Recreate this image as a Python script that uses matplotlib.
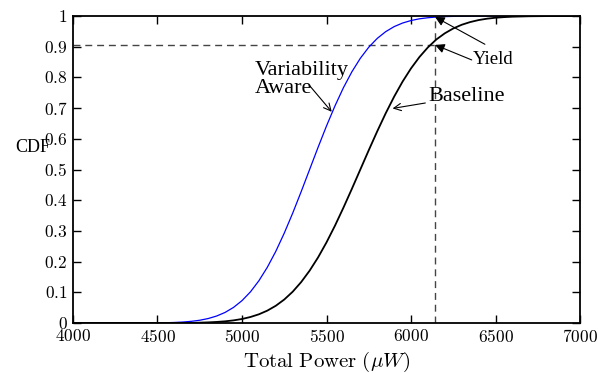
import matplotlib
matplotlib.use('Agg')
import matplotlib.pyplot as plt
from matplotlib.ticker import FuncFormatter

plt.rcParams['font.family'] = ['Liberation Serif', 'DejaVu Serif']
plt.rcParams['mathtext.fontset'] = 'cm'

# 总功耗 (uW) 与累计分布
power_aware = [4000, 4500, 4600, 4650, 4700, 4750, 4800, 4850, 4900, 4950, 5000,
               5050, 5100, 5150, 5200, 5250, 5300, 5350, 5400, 5450, 5500,
               5550, 5600, 5650, 5700, 5750, 5800, 5850, 5900, 5950, 6000,
               6050, 6100, 6150, 6200, 6300, 6500, 7000]
cdf_aware = [0.0, 0.0001, 0.0018, 0.0032, 0.0055, 0.0090, 0.0146, 0.0228, 0.0345, 0.0509, 0.0729,
             0.1015, 0.1377, 0.1817, 0.2335, 0.2928, 0.3580, 0.4278, 0.5, 0.5722, 0.6420,
             0.7072, 0.7665, 0.8183, 0.8623, 0.8985, 0.9271, 0.9491, 0.9655, 0.9772, 0.9854,
             0.9910, 0.9945, 0.9968, 0.9982, 0.9995, 1.0, 1.0]

power_base = [4000, 4700, 4800, 4850, 4900, 4950, 5000, 5050, 5100, 5150, 5200,
              5250, 5300, 5350, 5400, 5450, 5500, 5550, 5600, 5650, 5700,
              5750, 5800, 5850, 5900, 5950, 6000, 6050, 6100, 6150, 6200,
              6250, 6300, 6350, 6400, 6450, 6500, 6550, 6600, 6700, 6800, 7000]
cdf_base = [0.0, 0.0003, 0.0021, 0.0035, 0.0055, 0.0086, 0.0131, 0.0196, 0.0284, 0.0404, 0.0562,
            0.0765, 0.1020, 0.1333, 0.1705, 0.2136, 0.2627, 0.3170, 0.3756, 0.4370, 0.5,
            0.5630, 0.6244, 0.6830, 0.7373, 0.7864, 0.8295, 0.8667, 0.8980, 0.9238, 0.9438,
            0.9596, 0.9716, 0.9804, 0.9869, 0.9914, 0.9945, 0.9965, 0.9979, 0.9993, 0.9998, 1.0]

# 良率点
yield_power = 6142
yield_base = 0.906
yield_aware = 0.997

xticks = [4000, 4500, 5000, 5500, 6000, 6500, 7000]
yticks = [0, 0.1, 0.2, 0.3, 0.4, 0.5, 0.6, 0.7, 0.8, 0.9, 1]

fig = plt.figure(figsize=(5.98, 3.73), dpi=100)
ax = fig.add_axes([0.122, 0.134, 0.848, 0.823])

# 虚线标出良率
dash_kw = dict(color='#444444', lw=1.0, ls=(0, (5, 3.5)))
ax.plot([4000, yield_power], [yield_base, yield_base], **dash_kw)
ax.plot([yield_power, yield_power], [0, 1], **dash_kw)

ax.plot(power_aware, cdf_aware, color='#0000ff', lw=0.9)
ax.plot(power_base, cdf_base, color='black', lw=1.3)

ax.set_xlim(4000, 7000)
ax.set_ylim(0, 1)
ax.set_xticks(xticks)
ax.set_yticks(yticks)
ax.xaxis.set_major_formatter(FuncFormatter(lambda v, p: f'${v:g}$'))
ax.yaxis.set_major_formatter(FuncFormatter(lambda v, p: f'${v:g}$'))
ax.tick_params(direction='in', length=6, width=1, top=True, right=True,
               labelsize=12.5, pad=4)
for s in ax.spines.values():
    s.set_linewidth(1.3)

ax.set_xlabel(r'$\mathrm{Total\ Power}\ (\mu W)$', fontsize=15, labelpad=3)
ax.set_ylabel('CDF', fontsize=13, rotation=0, ha='right', va='center')
ax.yaxis.set_label_coords(-0.045, 0.573)

# 注释
arrow_open = dict(arrowstyle='->', color='black', lw=0.8,
                  mutation_scale=13, shrinkA=0, shrinkB=0)
arrow_fill = dict(arrowstyle='-|>', color='black', lw=0.8,
                  mutation_scale=14, shrinkA=0, shrinkB=0)

ax.text(5077, 0.793, 'Variability\nAware', fontsize=16, ha='left', va='center',
        multialignment='left', linespacing=0.9)
ax.annotate('', xy=(5531, 0.688), xytext=(5402, 0.772), arrowprops=arrow_open)

ax.annotate('Baseline', xy=(5891, 0.699), xytext=(6101, 0.739),
            fontsize=16, ha='left', va='center', arrowprops=arrow_open)

ax.text(6365, 0.857, 'Yield', fontsize=13.5, ha='left', va='center')
ax.annotate('', xy=(yield_power, yield_aware), xytext=(6437, 0.908),
            arrowprops=arrow_fill)
ax.annotate('', xy=(yield_power, yield_base), xytext=(6359, 0.857),
            arrowprops=arrow_fill)

fig.savefig('out.png', dpi=100)
